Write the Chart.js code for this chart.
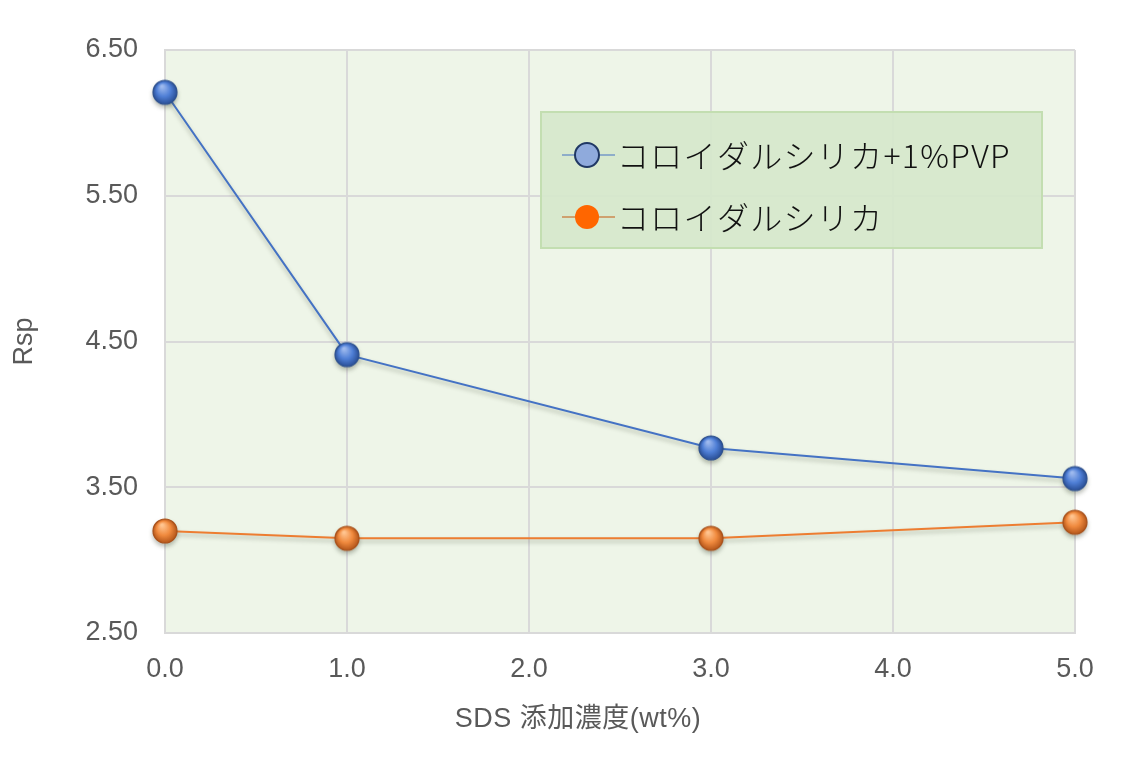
<!DOCTYPE html>
<html>
<head>
<meta charset="utf-8">
<script src="https://cdn.jsdelivr.net/npm/chart.js@4.4.1/dist/chart.umd.min.js"></script>
<style>
  html, body { margin: 0; padding: 0; background: #fff; }
  #wrap { width: 1123px; height: 762px; }
</style>
</head>
<body>
<div id="wrap"><canvas id="c" width="1123" height="762"></canvas></div>
<script>
// データ
const sdsConc = [0, 1, 3, 5];
const rspPvp = [6.21, 4.41, 3.77, 3.56];
const rspSilica = [3.20, 3.15, 3.15, 3.26];
const seriesNames = ['コロイダルシリカ+1%PVP', 'コロイダルシリカ'];
const xTicks = [0, 1, 2, 3, 4, 5];
const yTicks = [2.5, 3.5, 4.5, 5.5, 6.5];
const xTitle = 'SDS 添加濃度(wt%)';

const numFont = '"Liberation Sans", Arial, sans-serif';
const jpFont = '"Noto Sans CJK JP", sans-serif';

// 球状マーカー
function sphere(light, base, dark, edge) {
  const r = 12, pad = 2;
  const cv = document.createElement('canvas');
  cv.width = cv.height = (r + pad) * 2;
  const g = cv.getContext('2d');
  const c = r + pad;
  const grad = g.createRadialGradient(c - 3, c - 6, 1, c, c, r);
  grad.addColorStop(0, light);
  grad.addColorStop(0.55, base);
  grad.addColorStop(1, dark);
  g.beginPath();
  g.arc(c, c, r, 0, Math.PI * 2);
  g.fillStyle = grad;
  g.fill();
  g.lineWidth = 1.2;
  g.strokeStyle = edge;
  g.stroke();
  return cv;
}
const blueBall = sphere('#9db9ee', '#4f7fd6', '#2a4f96', '#2f528f');
const orangeBall = sphere('#ffc48f', '#f08a3e', '#b4561a', '#a9521c');

const plotBg = {
  id: 'plotBg',
  beforeDraw(chart) {
    const { ctx, chartArea: a } = chart;
    ctx.save();
    ctx.fillStyle = '#eef5e8';
    ctx.fillRect(a.left, a.top, a.right - a.left, a.bottom - a.top);
    ctx.restore();
  }
};

const lineShadow = {
  id: 'lineShadow',
  beforeDatasetDraw(chart) {
    const ctx = chart.ctx;
    ctx.save();
    ctx.shadowColor = 'rgba(60,70,50,0.35)';
    ctx.shadowBlur = 4;
    ctx.shadowOffsetY = 3;
  },
  afterDatasetDraw(chart) {
    chart.ctx.restore();
  }
};

// X軸タイトル（グラフ全体の中央寄り）
const xAxisTitle = {
  id: 'xAxisTitle',
  afterDraw(chart) {
    const ctx = chart.ctx;
    ctx.save();
    ctx.fillStyle = '#595959';
    ctx.font = '27px ' + numFont + ', ' + jpFont;
    ctx.letterSpacing = '0.5px';
    ctx.textAlign = 'center';
    ctx.textBaseline = 'middle';
    ctx.fillText(xTitle, 578, 720);
    ctx.restore();
  }
};

// 凡例（グラフ内に配置）
const boxLegend = {
  id: 'boxLegend',
  afterDraw(chart) {
    const ctx = chart.ctx;
    const x = 541, y = 112, w = 501, h = 136;
    ctx.save();
    ctx.fillStyle = 'rgba(214,232,204,0.95)';
    ctx.fillRect(x, y, w, h);
    ctx.strokeStyle = '#c3deb1';
    ctx.lineWidth = 2;
    ctx.strokeRect(x, y, w, h);
    const rows = [
      { y: 155, line: '#4472c4', fill: '#8faadc', edge: '#203864' },
      { y: 217, line: '#c55a11', fill: '#ff6600', edge: null }
    ];
    rows.forEach((r, i) => {
      ctx.beginPath();
      ctx.moveTo(562, r.y);
      ctx.lineTo(615, r.y);
      ctx.strokeStyle = r.line;
      ctx.lineWidth = 1.2;
      ctx.stroke();
      ctx.beginPath();
      ctx.arc(587, r.y, 12, 0, Math.PI * 2);
      ctx.fillStyle = r.fill;
      ctx.fill();
      if (r.edge) {
        ctx.strokeStyle = r.edge;
        ctx.lineWidth = 2;
        ctx.stroke();
      }
      ctx.fillStyle = '#111';
      ctx.font = '300 32px ' + jpFont;
      ctx.letterSpacing = '1.3px';
      ctx.textBaseline = 'middle';
      ctx.fillText(seriesNames[i], 617, r.y + 1);
    });
    ctx.restore();
  }
};

new Chart(document.getElementById('c'), {
  type: 'line',
  data: {
    datasets: [
      {
        label: seriesNames[0],
        data: sdsConc.map((x, i) => ({ x: x, y: rspPvp[i] })),
        borderColor: '#4472c4',
        borderWidth: 2,
        pointStyle: blueBall,
        pointRadius: 12,
        tension: 0,
        clip: false
      },
      {
        label: seriesNames[1],
        data: sdsConc.map((x, i) => ({ x: x, y: rspSilica[i] })),
        borderColor: '#ed7d31',
        borderWidth: 2.2,
        pointStyle: orangeBall,
        pointRadius: 12,
        tension: 0,
        clip: false
      }
    ]
  },
  options: {
    responsive: false,
    animation: false,
    layout: { padding: { top: 50, right: 48, left: 0, bottom: 0 } },
    plugins: {
      legend: { display: false },
      tooltip: { enabled: false }
    },
    scales: {
      x: {
        type: 'linear',
        min: 0,
        max: 5,
        afterBuildTicks(scale) { scale.ticks = xTicks.map(v => ({ value: v })); },
        afterFit(scale) { scale.height = 129; },
        ticks: {
          padding: 20,
          color: '#595959',
          font: { family: numFont, size: 27 },
          callback: v => v.toFixed(1)
        },
        grid: { color: '#d9d9d9', lineWidth: 2, drawTicks: false },
        border: { color: '#d9d9d9', width: 2 },
        title: { display: false }
      },
      y: {
        min: 2.5,
        max: 6.5,
        afterBuildTicks(scale) { scale.ticks = yTicks.map(v => ({ value: v })); },
        afterFit(scale) { scale.width = 165; },
        ticks: {
          padding: 27,
          color: '#595959',
          font: { family: numFont, size: 27 },
          callback: v => v.toFixed(2)
        },
        grid: { color: '#d9d9d9', lineWidth: 2, drawTicks: false },
        border: { color: '#d9d9d9', width: 2 },
        title: {
          display: true,
          text: 'Rsp',
          color: '#595959',
          font: { family: numFont, size: 27 },
          padding: { top: 8 }
        }
      }
    }
  },
  plugins: [plotBg, lineShadow, xAxisTitle, boxLegend]
});
</script>
</body>
</html>
